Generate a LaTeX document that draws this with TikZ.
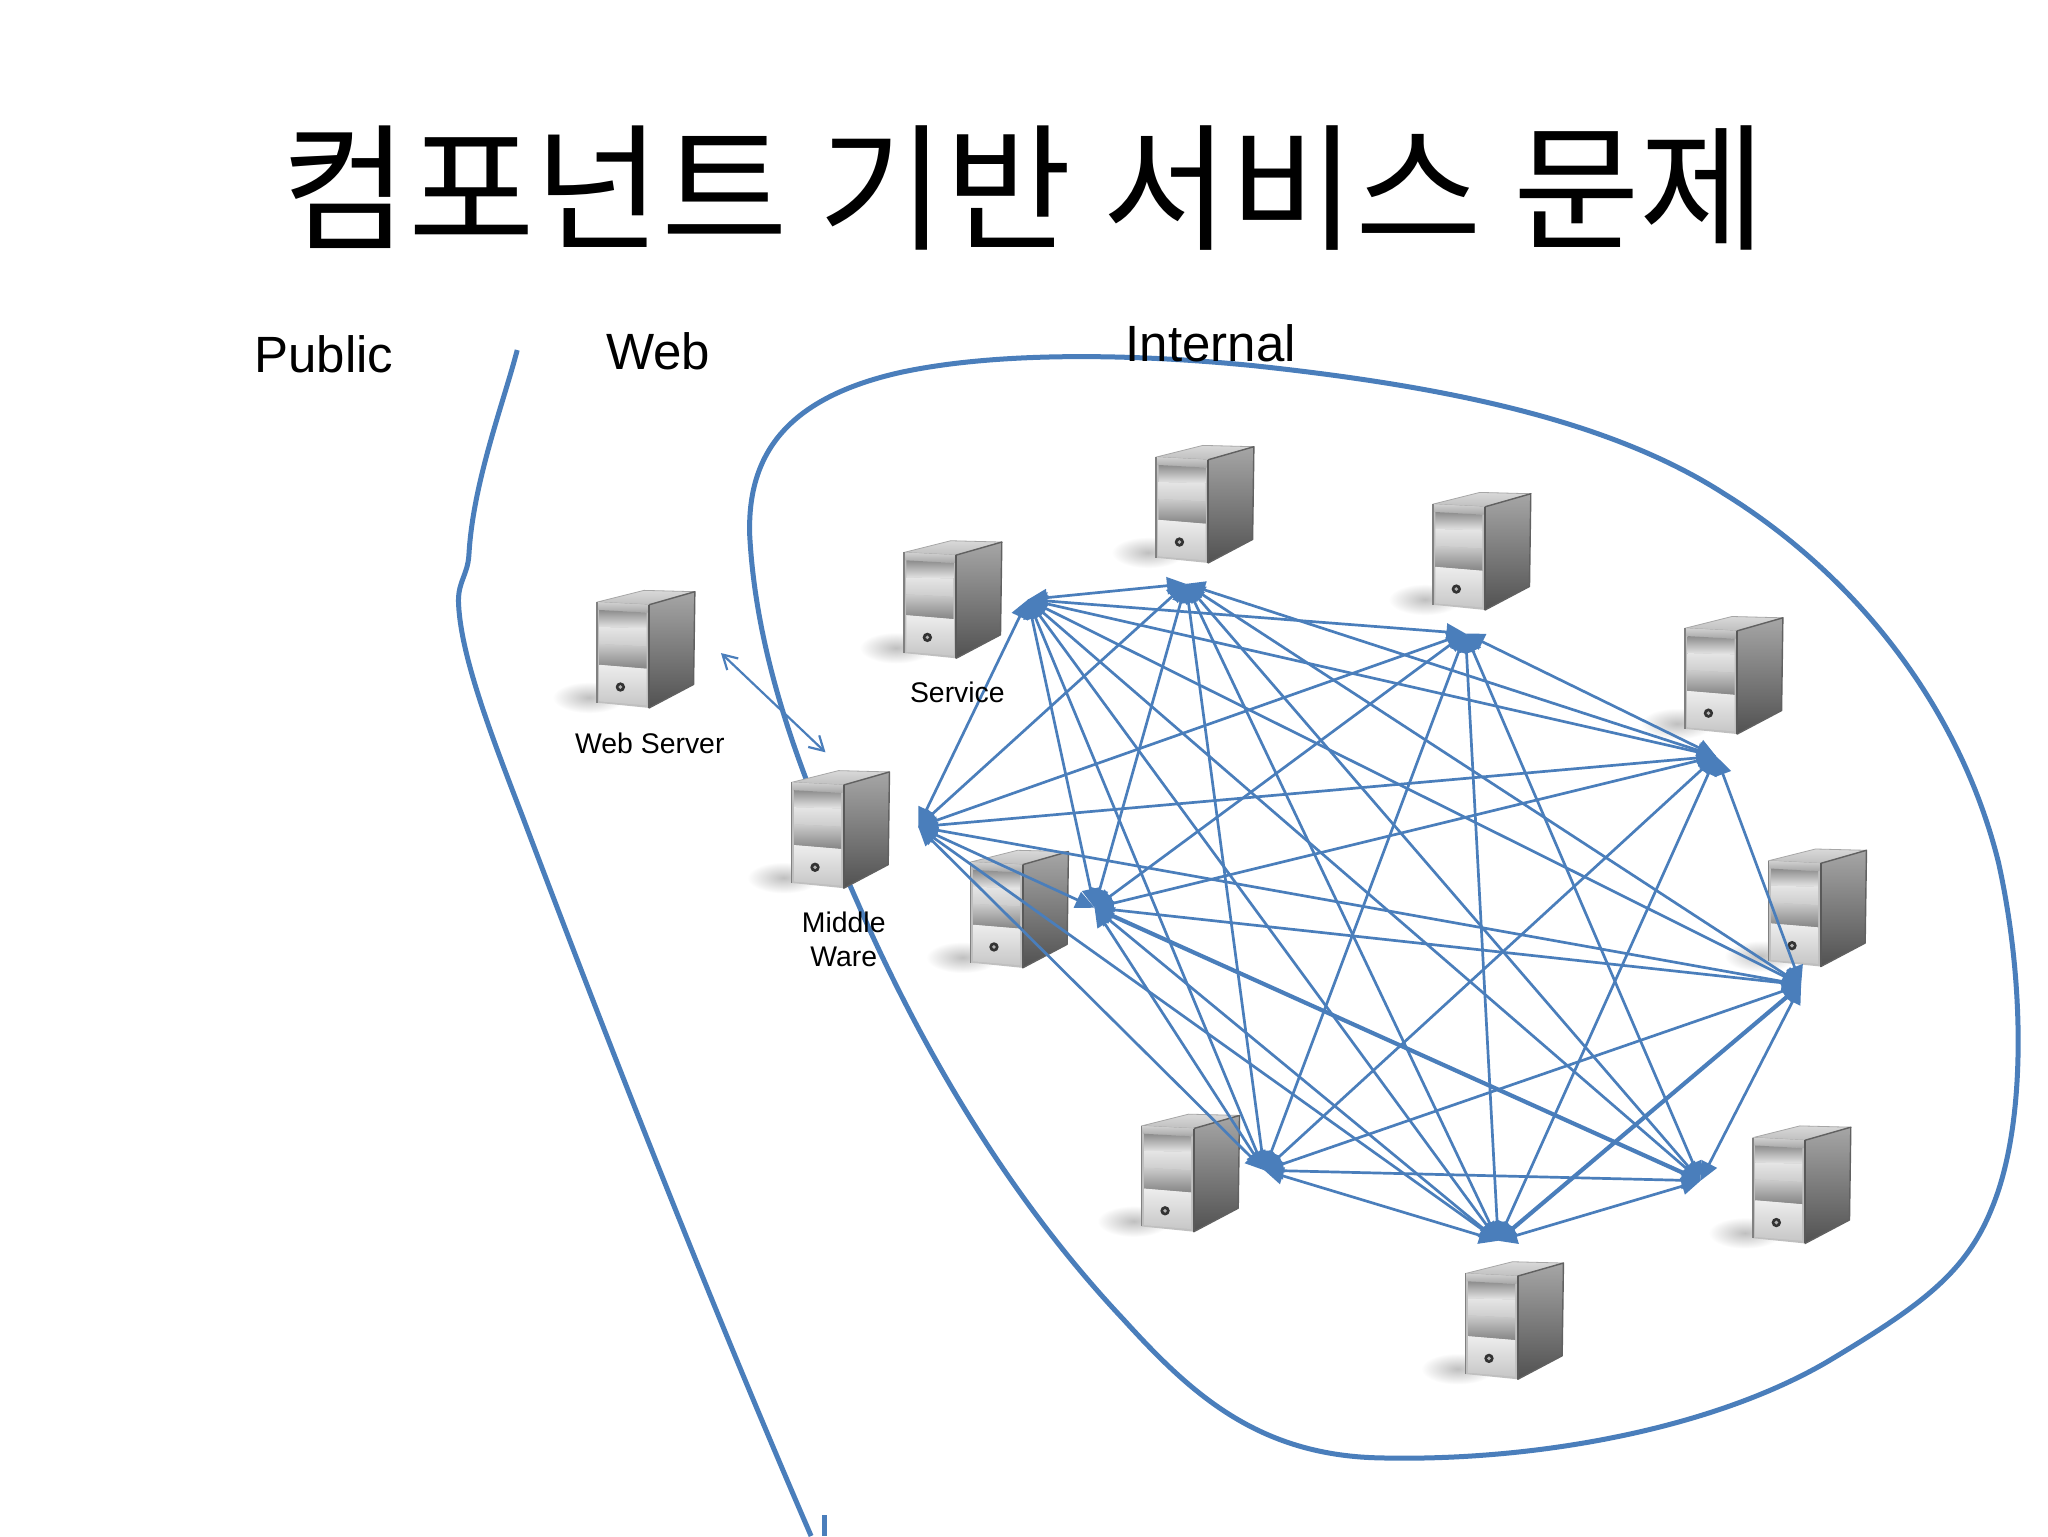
\documentclass[tikz,border=0pt]{standalone}
\usepackage{fontspec}
\setmainfont{Liberation Sans}
\newfontfamily\krfont{Noto Sans CJK KR}
\usetikzlibrary{arrows.meta}
\definecolor{netblue}{HTML}{4A7EBB}
\tikzset{
  x=0.653061pt,y=-0.653061pt,
  curve/.style={draw=netblue,line width=2.5pt,line join=round},
  link/.style={draw=netblue,line width=1.35pt,{Triangle[length=9.5pt,width=8.5pt]}-{Triangle[length=9.5pt,width=8.5pt]}},
  thicklink/.style={link,line width=2.1pt},
  openlink/.style={draw=netblue,line width=1.1pt,{Straight Barb[length=7pt,width=8pt]}-{Straight Barb[length=7pt,width=8pt]}},
  lab/.style={font=\fontsize{14.2}{17}\selectfont,align=center,text=black,inner sep=0pt},
  biglab/.style={font=\fontsize{25.5}{30}\selectfont,text=black,inner sep=0pt},
  srv/.pic={
    \shade[inner color=black!25,outer color=white,draw=none] (-6,82) ellipse (28 and 12);
    \shade[top color=black!15,bottom color=black!25,draw=black!35,line width=.4pt,line join=round] (0,9) -- (36,0) -- (75,1) -- (40,11) -- cycle;
    \shade[top color=black!35,bottom color=black!68,draw=black!62,line width=.7pt,line join=round] (40,11) -- (75,1) -- (74,72) -- (40,90) -- cycle;
    \fill[black!25] (0,9) -- (40,11) -- (40,90) -- (0,86) -- cycle;
    \shade[top color=black!18,bottom color=black!35] (0,9) -- (40,11) -- (39,17) -- (1,15) -- cycle;
    \shade[top color=black!45,bottom color=black!10] (2,15) -- (38,17) -- (38,29) -- (2,28) -- cycle;
    \shade[top color=black!10,bottom color=black!20] (2,28) -- (38,29) -- (38,43) -- (2,41) -- cycle;
    \shade[top color=black!20,bottom color=black!48] (2,41) -- (38,43) -- (38,60) -- (2,57) -- cycle;
    \shade[top color=black!7,bottom color=black!22] (2,57) -- (38,60) -- (38,88) -- (2,85) -- cycle;
    \draw[black!50,line width=.7pt] (0,9) -- (0,86);
    \draw[black!65,line width=1pt] (40,11) -- (40,90);
    \fill[black!80] (18,74) circle (3.6);
    \fill[black!30] (18,74) circle (1.5);
  }
}
\begin{document}
\begin{tikzpicture}
\useasboundingbox (0,0) rectangle (1568,1176);
\fill[white] (0,0) rectangle (1568,1176);

% hubs
\coordinate (S) at (787,459);
\coordinate (T) at (908,447);
\coordinate (U) at (1122,485);
\coordinate (R) at (1314,579);
\coordinate (E) at (1379,754);
\coordinate (Q) at (1302,904);
\coordinate (B) at (1147,950);
\coordinate (L) at (968,896);
\coordinate (M) at (838,695);
\coordinate (A) at (703,633);
\coordinate (w1) at (552,500);
\coordinate (w2) at (632,576);
\coordinate (c1) at (631,1160);
\coordinate (c2) at (631,1176);

% boundary curves
\draw[curve] (396,268) .. controls (385,310) and (362,370) .. (359,425)
  .. controls (358,440) and (351,445) .. (351,460)
  .. controls (352,500) and (375,560) .. (400,625)
  .. controls (470,810) and (545,1000) .. (621,1176);
\draw[curve] (c1) -- (c2);
\draw[curve] (574,410) .. controls (572,350) and (600,305) .. (690,285)
  .. controls (760,270) and (860,270) .. (960,280)
  .. controls (1100,295) and (1230,320) .. (1320,378)
  .. controls (1420,440) and (1500,540) .. (1530,660)
  .. controls (1550,750) and (1552,860) .. (1525,925)
  .. controls (1505,975) and (1470,1000) .. (1400,1042)
  .. controls (1310,1095) and (1170,1120) .. (1050,1116)
  .. controls (960,1112) and (910,1065) .. (860,1010)
  .. controls (780,925) and (715,820) .. (665,710)
  .. controls (625,620) and (580,520) .. (574,410) -- cycle;

% servers
\pic (srvweb) at (457,452) {srv};
\pic (srvmid) at (606,590) {srv};
\pic (srvsvc) at (692,414) {srv};
\pic (srvtop) at (885,341) {srv};
\pic (srvup) at (1097,377) {srv};
\pic (srvr) at (1290,472) {srv};
\pic (srve) at (1354,650) {srv};
\pic (srvq) at (1342,862) {srv};
\pic (srvb) at (1122,966) {srv};
\pic (srvl) at (874,853) {srv};
\pic (srvm) at (743,651) {srv};

% network
\foreach \a/\b in {S/T,S/U,S/R,S/E,S/Q,S/B,S/L,S/M,S/A,
  T/R,T/E,T/Q,T/B,T/L,T/M,T/A,
  U/R,U/Q,U/B,U/L,U/M,U/A,
  R/E,R/B,R/L,R/M,R/A,
  E/Q,E/L,E/M,E/A,
  Q/B,Q/L,
  B/L,B/A,B/M,
  L/M,L/A,M/A}
  \draw[link] (\a) -- (\b);
\draw[thicklink] (E) -- (B);
\draw[thicklink] (M) -- (Q);
\draw[openlink] (w1) -- (w2);

% labels
\node[font=\krfont\fontsize{68.8}{80}\selectfont,inner sep=0pt] (title) at (784,144) {컴포넌트 기반 서비스 문제};
\node[biglab] (public) at (248,271) {Public};
\node[biglab] (web) at (504,269) {Web};
\node[biglab] (internal) at (927,263) {Internal};
\node[lab] (lweb) at (497.5,569) {Web Server};
\node[lab] (lsvc) at (733,530) {Service};
\node[lab] (lmid) at (646,719) {Middle\\Ware};
\end{tikzpicture}
\end{document}
